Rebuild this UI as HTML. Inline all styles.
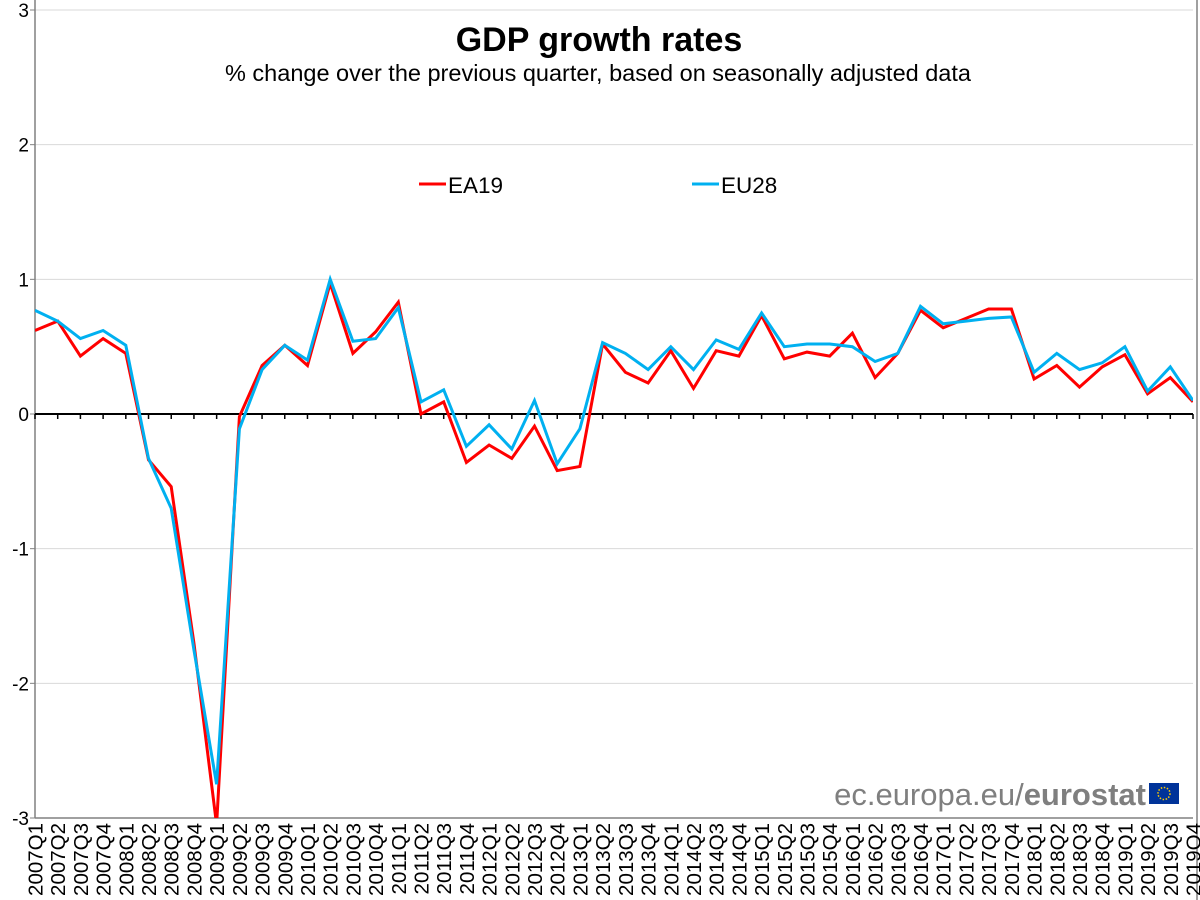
<!DOCTYPE html>
<html><head><meta charset="utf-8">
<style>
html,body{margin:0;padding:0;background:#fff;}
svg{display:block;font-family:"Liberation Sans",Arial,sans-serif;}
</style></head>
<body>
<svg id="chart" width="1200" height="900" viewBox="0 0 1200 900" xmlns="http://www.w3.org/2000/svg">
<rect x="0" y="0" width="1200" height="900" fill="#fff"/>
<defs><clipPath id="plotclip"><rect x="35" y="10" width="1158" height="808"/></clipPath></defs>
<g id="grid"></g>
<g id="yticks"></g>
<g id="xlabels"></g>
<g id="series" clip-path="url(#plotclip)"></g>
<text x="599" y="51" text-anchor="middle" font-size="34" font-weight="bold" fill="#000">GDP growth rates</text>
<text x="598" y="81" text-anchor="middle" font-size="23.5" fill="#000">% change over the previous quarter, based on seasonally adjusted data</text>
<g>
<line x1="419" y1="184" x2="446" y2="184" stroke="#ff0000" stroke-width="3"/>
<text x="448" y="193" font-size="22.5" fill="#000">EA19</text>
</g>
<g>
<line x1="692" y1="184" x2="719" y2="184" stroke="#00b0f0" stroke-width="3"/>
<text x="721" y="193" font-size="22.5" fill="#000">EU28</text>
</g>
<g>
<text x="1146" y="805" text-anchor="end" font-size="31" fill="#7f7f7f">ec.europa.eu/<tspan font-weight="bold">eurostat</tspan></text>
<rect x="1149" y="783" width="30" height="21" fill="#003399"/>
<circle cx="1164" cy="793.5" r="6" fill="none" stroke="#ffcc00" stroke-width="1.5" stroke-dasharray="1.5 1.6"/>
</g>
</svg>
<script>
const categories = [];
for (let y = 2007; y <= 2019; y++) for (let q = 1; q <= 4; q++) categories.push(y + 'Q' + q);
const ea19 = [0.62,0.69,0.43,0.56,0.45,-0.34,-0.54,-1.7,-3.05,-0.02,0.36,0.51,0.36,0.97,0.45,0.61,0.83,0.0,0.09,-0.36,-0.23,-0.33,-0.09,-0.42,-0.39,0.52,0.31,0.23,0.47,0.19,0.47,0.43,0.73,0.41,0.46,0.43,0.60,0.27,0.45,0.77,0.64,0.71,0.78,0.78,0.26,0.36,0.20,0.35,0.44,0.15,0.27,0.09];
const eu28 = [0.77,0.69,0.56,0.62,0.51,-0.33,-0.7,-1.75,-2.75,-0.11,0.33,0.51,0.40,1.0,0.54,0.56,0.79,0.09,0.18,-0.24,-0.08,-0.26,0.10,-0.37,-0.11,0.53,0.45,0.33,0.50,0.33,0.55,0.48,0.75,0.50,0.52,0.52,0.50,0.39,0.45,0.80,0.67,0.69,0.71,0.72,0.31,0.45,0.33,0.38,0.50,0.17,0.35,0.10];
const yTicks = [-3,-2,-1,0,1,2,3];

const NS = 'http://www.w3.org/2000/svg';
const X0 = 35, X1 = 1193, YTOP = 10, YBOT = 818, VMIN = -3, VMAX = 3;
function xScale(i){ return X0 + (X1 - X0) * i / (categories.length - 1); }
function yScale(v){ return YBOT - (v - VMIN) / (VMAX - VMIN) * (YBOT - YTOP); }
function mk(tag, attrs, parent){ const e = document.createElementNS(NS, tag); for (const k in attrs) e.setAttribute(k, attrs[k]); parent.appendChild(e); return e; }

const grid = document.getElementById('grid');
const yt = document.getElementById('yticks');
yTicks.forEach(v => {
  const y = yScale(v);
  if (v !== 0 && v !== -3) {
    const g = mk('line', {x1: X0, x2: X1, y1: y, y2: y, stroke: '#d9d9d9', 'stroke-width': 1}, grid);
    
    
  }
  const t = mk('text', {x: 29, y: y + 7, 'text-anchor': 'end', 'font-size': 19, fill: '#000'}, yt);
  t.textContent = v;
  
  
  mk('line', {x1: X0 - 5, x2: X0, y1: y, y2: y, stroke: '#808080', 'stroke-width': 1}, yt);
});
const ya = mk('line', {x1: X0, x2: X0, y1: YTOP - 10, y2: YBOT, stroke: '#808080', 'stroke-width': 1.5}, grid);


const bx = mk('line', {x1: X0, x2: X1, y1: YBOT, y2: YBOT, stroke: '#808080', 'stroke-width': 1.5}, grid);


const rb = mk('line', {x1: X1 + 4, x2: X1 + 4, y1: 0, y2: 900, stroke: '#808080', 'stroke-width': 1.5}, grid);


const y0 = yScale(0);
const za = mk('line', {x1: X0, x2: X1, y1: y0, y2: y0, stroke: '#000', 'stroke-width': 2}, grid);



const xl = document.getElementById('xlabels');
categories.forEach((c, i) => {
  const x = xScale(i);
  mk('line', {x1: x, x2: x, y1: y0, y2: y0 + 5, stroke: '#000', 'stroke-width': 1.5}, xl);
  const t = mk('text', {x: 0, y: 0, 'font-size': 20.5, fill: '#000', 'text-anchor': 'end', transform: 'translate(' + (x + 7.5) + ',823) rotate(-90)'}, xl);
  t.textContent = c;
  
  
});

const sg = document.getElementById('series');
function line(data, color, name){
  const d = data.map((v, i) => (i ? 'L' : 'M') + xScale(i).toFixed(1) + ',' + yScale(v).toFixed(1)).join(' ');
  const p = mk('path', {d: d, fill: 'none', stroke: color, 'stroke-width': 3, 'stroke-linejoin': 'miter'}, sg);
  
  
}
line(ea19, '#ff0000', 'series-ea19-line');
line(eu28, '#00b0f0', 'series-eu28-line');
</script>
</body></html>
